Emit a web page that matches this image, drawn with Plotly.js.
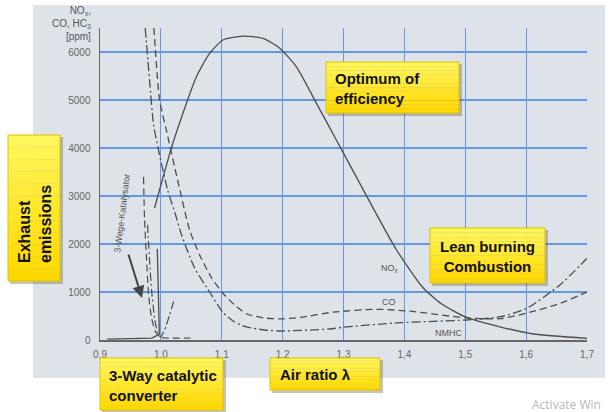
<!DOCTYPE html>
<html><head><meta charset="utf-8">
<script src="https://cdn.plot.ly/plotly-3.0.1.min.js"></script>
<style>html,body{margin:0;padding:0;background:#fff;}#chart{width:611px;height:412px;}</style>
</head><body><div id="chart"></div>
<script>
// ---- data ----
const lambdaNOx = [0.9896, 1.0197, 1.0582, 1.0801, 1.102, 1.1348, 1.1678, 1.1952, 1.2227, 1.2556, 1.2775, 1.2993, 1.3405, 1.3872, 1.43, 1.46, 1.5023, 1.5584, 1.612, 1.70];
const noxPpm    = [2750, 4100, 5480, 5970, 6250, 6330, 6285, 6080, 5690, 4930, 4420, 3910, 2940, 1875, 1100, 760, 470, 270, 125, 35];

const lambdaCO = [0.9885, 0.9979, 1.0089, 1.0275, 1.0472, 1.0637, 1.0834, 1.1015, 1.1212, 1.141, 1.1706, 1.1952, 1.2286, 1.2828, 1.3543, 1.4093, 1.5023, 1.5584, 1.601, 1.6555, 1.70];
const coPpm    = [6500, 5000, 4375, 3333, 2292, 1771, 1292, 979, 729, 542, 458, 440, 470, 580, 640, 600, 460, 445, 560, 760, 1000];

const lambdaHC = [0.9743, 0.9814, 0.988, 0.9979, 1.0111, 1.0242, 1.034, 1.0554, 1.0801, 1.1015, 1.1212, 1.141, 1.1706, 1.1952, 1.2775, 1.2989, 1.3926, 1.5023, 1.5584, 1.601, 1.6555, 1.70];
const hcPpm    = [6500, 5417, 4479, 3854, 3125, 2604, 2188, 1500, 1000, 583, 375, 271, 208, 188, 229, 265, 360, 417, 485, 660, 1146, 1702];

// after the 3-way catalytic converter
const lambdaCatNOx = [0.912, 0.95, 0.985, 0.9975, 0.9941];
const catNOxPpm    = [20, 25, 40, 120, 1900];
const lambdaCatCO  = [0.9715, 0.9732, 0.9765, 0.9798, 0.9847, 0.9913, 0.9979, 1.0077, 1.0554];
const catCOPpm     = [3400, 2500, 1667, 938, 458, 167, 62, 42, 42];
const lambdaCatHC  = [0.9781, 0.9814, 0.9847, 0.9896, 0.9946, 0.9995, 1.0061, 1.0143, 1.0217];
const catHCPpm     = [2400, 1667, 1042, 458, 146, 62, 208, 521, 833];

const xTickVals = [0.9, 1.0, 1.1, 1.2, 1.3, 1.4, 1.5, 1.6, 1.7];
const xTickText = ["0,9", "1,0", "1,1", "1,2", "1,3", "1,4", "1,5", "1,6", "1,7"];
const yTickVals = [0, 1000, 2000, 3000, 4000, 5000, 6000];
const yTickText = ["0", "1000", "2000", "3000", "4000", "5000", "6000"];

// ---- layout helpers (pixel -> paper) ----
const W = 611, H = 412, ML = 100, MR = 24, MT = 28, MB = 72;
const PW = W - ML - MR, PH = H - MT - MB;
function px(x) { return (x - ML) / PW; }
function py(y) { return (H - MB - y) / PH; }

const lineCol = '#4d4d4d';
const traces = [
  {x: lambdaNOx, y: noxPpm, mode: 'lines', line: {color: lineCol, width: 1.3, shape: 'spline', smoothing: 0.6}},
  {x: lambdaCO, y: coPpm, mode: 'lines', line: {color: lineCol, width: 1.3, dash: '7px,4px', shape: 'spline', smoothing: 0.6}},
  {x: lambdaHC, y: hcPpm, mode: 'lines', line: {color: lineCol, width: 1.3, dash: '9px,3px,2px,3px', shape: 'spline', smoothing: 0.6}},
  {x: lambdaCatNOx, y: catNOxPpm, mode: 'lines', line: {color: lineCol, width: 1.3}},
  {x: lambdaCatCO, y: catCOPpm, mode: 'lines', line: {color: lineCol, width: 1.2, dash: '7px,4px', shape: 'spline', smoothing: 0.5}},
  {x: lambdaCatHC, y: catHCPpm, mode: 'lines', line: {color: lineCol, width: 1.2, dash: '8px,3px,2px,3px', shape: 'spline', smoothing: 0.5}}
];

const shapes = [
  // photographed page background
  {type: 'rect', xref: 'paper', yref: 'paper', x0: px(33), x1: px(605), y0: py(378), y1: py(5),
   fillcolor: '#dde3e8', line: {width: 0}, layer: 'below'}
];
function yellowBox(x0, y0, x1, y1) {
  shapes.push({type: 'rect', xref: 'paper', yref: 'paper', x0: px(x0 + 2), x1: px(x1 + 3), y0: py(y1 + 3), y1: py(y0 + 2),
    fillcolor: 'rgba(90,90,60,0.35)', line: {width: 0}, layer: 'above'});
  const n = 12;
  for (let i = 0; i < n; i++) {
    const t = i / (n - 1);
    const r = 255, g = Math.round(246 - 30 * t), b = Math.round(90 - 90 * t);
    const ya = y0 + (y1 - y0) * i / n, yb = y0 + (y1 - y0) * (i + 1) / n;
    shapes.push({type: 'rect', xref: 'paper', yref: 'paper', x0: px(x0), x1: px(x1), y0: py(yb), y1: py(ya),
      fillcolor: `rgb(${r},${g},${b})`, line: {width: 0}, layer: 'above'});
  }
  shapes.push({type: 'rect', xref: 'paper', yref: 'paper', x0: px(x0), x1: px(x1), y0: py(y1), y1: py(y0),
    fillcolor: 'rgba(0,0,0,0)', line: {width: 1, color: '#e0c200'}, layer: 'above'});
}
yellowBox(326, 62, 459, 113);
yellowBox(430, 228, 545, 283);
yellowBox(100, 358, 223, 410);
yellowBox(270, 358, 380, 390);
yellowBox(8, 135, 60, 281);

const boxFont = {family: 'Liberation Sans, Arial, sans-serif', size: 15, color: '#111'};
const smallFont = {family: 'Liberation Sans, Arial, sans-serif', size: 9, color: '#555'};
const annotations = [
  {xref: 'paper', yref: 'paper', x: px(333), y: py(88), xanchor: 'left', yanchor: 'middle', align: 'left',
   text: '<b>Optimum of<br>efficiency</b>', showarrow: false, font: boxFont},
  {xref: 'paper', yref: 'paper', x: px(487), y: py(256), xanchor: 'center', yanchor: 'middle', align: 'center',
   text: '<b>Lean burning<br>Combustion</b>', showarrow: false, font: boxFont},
  {xref: 'paper', yref: 'paper', x: px(107), y: py(385), xanchor: 'left', yanchor: 'middle', align: 'left',
   text: '<b>3-Way catalytic<br>converter</b>', showarrow: false, font: boxFont},
  {xref: 'paper', yref: 'paper', x: px(278), y: py(374), xanchor: 'left', yanchor: 'middle', align: 'left',
   text: '<b>Air ratio λ</b>', showarrow: false, font: boxFont},
  {xref: 'paper', yref: 'paper', x: px(35), y: py(224), xanchor: 'center', yanchor: 'middle', align: 'left',
   text: '<b>Exhaust<br>emissions</b>', textangle: -90, showarrow: false, font: {family: 'Liberation Sans, Arial, sans-serif', size: 16, color: '#111'}},
  {xref: 'paper', yref: 'paper', x: px(93), y: py(44), xanchor: 'right', yanchor: 'bottom', align: 'right',
   text: 'NO<sub>x</sub>,<br>CO, HC<sub>3</sub><br>[ppm]', showarrow: false, font: {family: 'Liberation Sans, Arial, sans-serif', size: 10, color: '#555'}},
  {xref: 'paper', yref: 'paper', x: px(390), y: py(268), xanchor: 'center', yanchor: 'middle',
   text: 'NO<sub>x</sub>', showarrow: false, font: smallFont},
  {xref: 'paper', yref: 'paper', x: px(389), y: py(302), xanchor: 'center', yanchor: 'middle',
   text: 'CO', showarrow: false, font: smallFont},
  {xref: 'paper', yref: 'paper', x: px(448), y: py(333), xanchor: 'center', yanchor: 'middle',
   text: 'NMHC', showarrow: false, font: smallFont},
  {xref: 'paper', yref: 'paper', x: px(122), y: py(214), xanchor: 'center', yanchor: 'middle', textangle: -83,
   text: '3-Wege-Katalysator', showarrow: false, font: {family: 'Liberation Sans, Arial, sans-serif', size: 9, color: '#555'}},
  {xref: 'paper', yref: 'paper', x: px(142), y: py(298), ax: -14, ay: -45, axref: 'pixel', ayref: 'pixel',
   text: '', showarrow: true, arrowhead: 2, arrowsize: 1.2, arrowwidth: 2, arrowcolor: '#444'},
  {xref: 'paper', yref: 'paper', x: px(530), y: py(404), xanchor: 'left', yanchor: 'middle',
   text: 'Activate Win', showarrow: false, font: {family: 'Open Sans, sans-serif', size: 12, color: '#b8b8b8'}}
];

const axisFont = {family: 'Liberation Sans, Arial, sans-serif', size: 10, color: '#666'};
const layout = {
  width: W, height: H,
  margin: {l: ML, r: MR, t: MT, b: MB, pad: 0},
  paper_bgcolor: '#ffffff', plot_bgcolor: 'rgba(0,0,0,0)',
  showlegend: false,
  xaxis: {range: [0.9, 1.7], tickvals: xTickVals, ticktext: xTickText, showgrid: true, gridcolor: '#6497de', gridwidth: 1.1,
          zeroline: false, showline: true, linecolor: '#666', linewidth: 1.5, ticks: '', tickfont: axisFont, ticklabelstandoff: 4},
  yaxis: {range: [0, 6500], tickvals: yTickVals, ticktext: yTickText, showgrid: true, gridcolor: '#6497de', gridwidth: 1.1,
          zeroline: false, showline: true, linecolor: '#666', linewidth: 1.5, ticks: '', tickfont: axisFont, ticklabelstandoff: 6},
  shapes: shapes,
  annotations: annotations
};
Plotly.newPlot('chart', traces, layout, {staticPlot: true, displayModeBar: false});
</script>
</body></html>
